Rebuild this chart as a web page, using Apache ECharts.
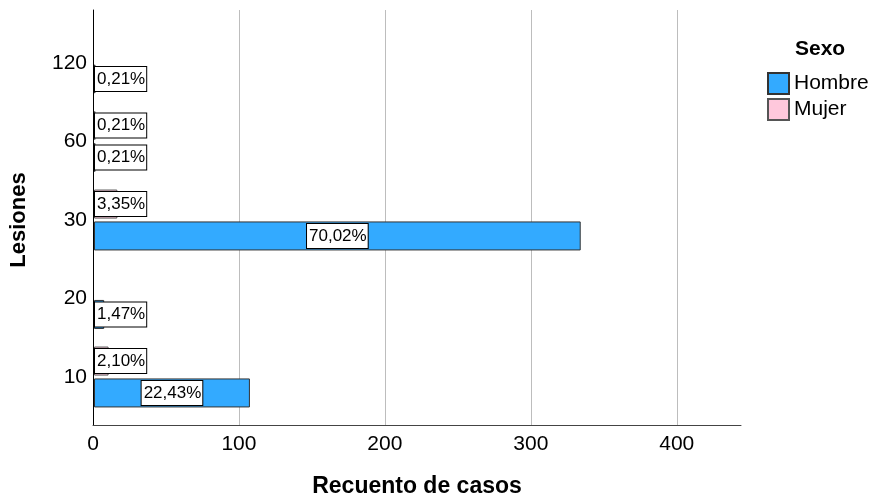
<!DOCTYPE html>
<html>
<head>
<meta charset="utf-8">
<script src="https://cdn.jsdelivr.net/npm/echarts@6/dist/echarts.min.js"></script>
<style>
html, body { margin: 0; padding: 0; background: #fff; }
#chart { width: 874px; height: 503px; }
</style>
</head>
<body>
<div id="chart"></div>
<script>
// datos (recuento de casos)
var categorias = ['10', '20', '30', '60', '120'];
var hombre = [107, 7, 334, 1, 1];
var mujer = [10, null, 16, 1, null];
var xTicks = [0, 100, 200, 300, 400];

var total = 0;
hombre.concat(mujer).forEach(function (v) { if (v) total += v; });

function pct(v) {
  return (v / total * 100).toFixed(2).replace('.', ',') + '%';
}

var etiqueta = {
  show: true,
  color: '#000',
  fontFamily: 'Liberation Sans',
  fontSize: 17,
  backgroundColor: '#fff',
  borderColor: '#000',
  borderWidth: 1,
  padding: [4, 1, 3, 2],
  formatter: function (p) { return pct(p.value); }
};

function puntos(arr) {
  return arr.map(function (v) {
    if (v == null) return null;
    var lab = v > 50
      ? { position: 'inside' }
      : { position: [1, '50%'], align: 'left', verticalAlign: 'middle' };
    return { value: v, label: lab };
  });
}

var myChart = echarts.init(document.getElementById('chart'));
var xMax = 444;
var option = {
  animation: false,
  textStyle: { fontFamily: 'Liberation Sans' },
  grid: [
    { left: 93, right: 133, top: 10, bottom: 73 },
    { left: 93, right: 133, top: 23.75, bottom: 86.75 }
  ],
  xAxis: [
    {
      gridIndex: 0, type: 'value', min: 0, max: xMax, interval: 100,
      name: 'Recuento de casos', nameLocation: 'middle', nameGap: 50,
      nameTextStyle: { fontSize: 23, fontWeight: 'bold', color: '#000' },
      axisLine: { show: true, lineStyle: { color: '#444', width: 1 } },
      axisTick: { show: false },
      axisLabel: {
        fontSize: 21, color: '#000', margin: 9, showMaxLabel: false,
        formatter: function (v) { return xTicks.indexOf(v) >= 0 ? String(v) : ''; }
      },
      splitLine: { show: true, showMaxLine: false, lineStyle: { color: '#bdbdbd', width: 1 } }
    },
    {
      gridIndex: 1, type: 'value', min: 0, max: xMax, show: false
    }
  ],
  yAxis: [
    {
      gridIndex: 0, type: 'value', min: 0, max: 1,
      axisLine: { show: true, lineStyle: { color: '#000', width: 1 } },
      axisTick: { show: false }, axisLabel: { show: false }, splitLine: { show: false }
    },
    {
      gridIndex: 1, type: 'category', data: categorias,
      name: 'Lesiones', nameLocation: 'middle', nameGap: 64, nameRotate: 90,
      nameTextStyle: { fontSize: 22, fontWeight: 'bold', color: '#000' },
      axisLine: { show: false }, axisTick: { show: false },
      axisLabel: { fontSize: 21, color: '#000', margin: 7 }
    }
  ],
  legend: {
    orient: 'vertical', left: 762, top: 67,
    itemWidth: 21, itemHeight: 21, itemGap: 3,
    icon: 'rect',
    textStyle: { fontSize: 21, color: '#000', fontFamily: 'Liberation Sans' },
    data: ['Hombre', 'Mujer']
  },
  graphic: [{
    type: 'text', left: 795, top: 39,
    style: { text: 'Sexo', fontSize: 21, fontWeight: 'bold', fill: '#000', fontFamily: 'Liberation Sans' }
  }],
  series: [
    {
      name: 'Mujer', type: 'bar', xAxisIndex: 1, yAxisIndex: 1,
      barWidth: 29, barGap: '10%',
      itemStyle: { color: '#ffc8dc', borderColor: '#555', borderWidth: 1 },
      label: etiqueta,
      data: puntos(mujer)
    },
    {
      name: 'Hombre', type: 'bar', xAxisIndex: 1, yAxisIndex: 1,
      barWidth: 29, barGap: '10%',
      itemStyle: { color: '#33aaff', borderColor: '#333', borderWidth: 1 },
      label: etiqueta,
      data: puntos(hombre)
    }
  ]
};
myChart.setOption(option);
window.onresize = function () { myChart.resize(); };
</script>
</body>
</html>
